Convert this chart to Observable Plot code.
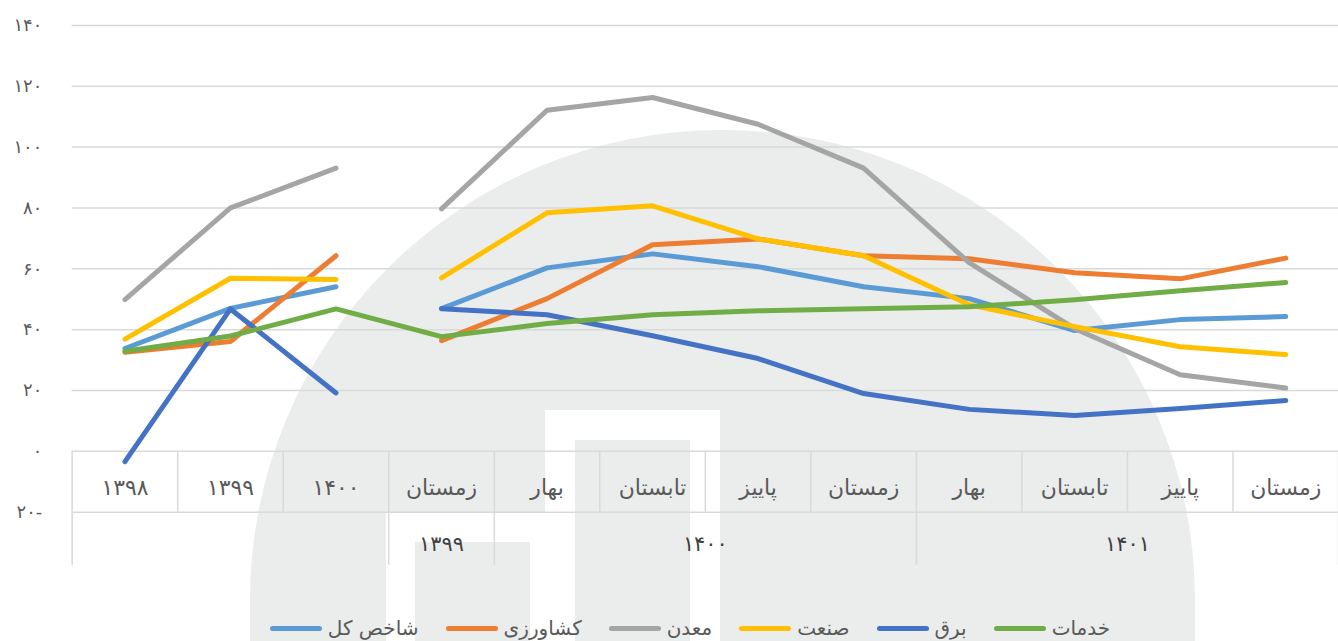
<!DOCTYPE html>
<html>
<head>
<meta charset="utf-8">
<script src="https://cdn.jsdelivr.net/npm/d3@7"></script>
<script src="https://cdn.jsdelivr.net/npm/@observablehq/plot@0.6"></script>
<style>
  html, body { margin: 0; padding: 0; background: #fff; overflow: hidden; width: 1338px; height: 641px; }
  #wrap { position: relative; width: 1338px; height: 641px; overflow: hidden; font-family: "DejaVu Sans", sans-serif; }
  .wm { position: absolute; background: #ebecec; }
  .wmw { position: absolute; background: #fff; }
  #chart { position: absolute; left: 0; top: 0; z-index: 1; }
  #legend { position: absolute; left: 0; top: 614px; width: 1338px; height: 28px; z-index: 1;
            display: flex; justify-content: center; align-items: center; gap: 27px; padding-left: 42px; box-sizing: border-box; }
  .item { display: flex; align-items: center; gap: 6px; font-size: 20px; color: #595959; }
  .sw { width: 52px; height: 5px; border-radius: 3px; }
</style>
</head>
<body>
<div id="wrap">
  <!-- faint background watermark -->
  <div class="wm" style="left:250px; top:130px; width:945px; height:560px; border-radius:472px 472px 0 0 / 470px 470px 0 0;"></div>
  <div class="wmw" style="left:545px; top:410px; width:175px; height:240px;"></div>
  <div class="wm" style="left:575px; top:440px; width:115px; height:210px;"></div>
  <div class="wmw" style="left:386px; top:512px; width:159px; height:140px;"></div>
  <div class="wm" style="left:415px; top:542px; width:115px; height:110px;"></div>
  <div id="chart"></div>
  <div id="legend"></div>
</div>
<script>
// ---- data ----
const categories = ["۱۳۹۸","۱۳۹۹","۱۴۰۰","زمستان","بهار","تابستان","پاییز","زمستان","بهار","تابستان","پاییز","زمستان"];
const groupLabels = ["", "۱۳۹۹", "۱۴۰۰", "۱۴۰۱"];
const groupSizes = [3, 1, 4, 4];
const annualCount = 3;

const seriesNames = ["شاخص کل", "کشاورزی", "معدن", "صنعت", "برق", "خدمات"];
const seriesColors = ["#5B9BD5", "#ED7D31", "#A5A5A5", "#FFC000", "#4472C4", "#70AD47"];
const connectedSeries = ["خدمات"];

const shakhesKol = [33.8, 47.0, 54.1, 46.9, 60.3, 64.9, 60.7, 54.1, 50.2, 39.7, 43.3, 44.3];
const keshavarzi = [32.6, 36.1, 64.3, 36.4, 50.2, 67.9, 69.8, 64.3, 63.3, 58.7, 56.7, 63.5];
const madan      = [49.9, 80.0, 93.1, 79.7, 112.1, 116.3, 107.5, 93.1, 62.0, 40.3, 25.2, 20.8];
const sanat      = [36.9, 56.9, 56.5, 57.0, 78.4, 80.7, 69.8, 64.3, 48.2, 41.0, 34.4, 31.8];
const bargh      = [-3.4, 46.8, 19.2, 46.9, 44.9, 38.0, 30.5, 19.0, 13.8, 11.8, 14.1, 16.7];
const khadamat   = [32.9, 37.9, 46.8, 37.7, 42.0, 44.9, 46.2, 46.9, 47.5, 49.8, 52.8, 55.5];
const seriesValues = [shakhesKol, keshavarzi, madan, sanat, bargh, khadamat];

const yTicks = [-20, 0, 20, 40, 60, 80, 100, 120, 140];

// ---- helpers ----
const fa = s => String(s).replace(/\d/g, d => "۰۱۲۳۴۵۶۷۸۹"[d]);
const yFormat = v => v < 0 ? fa(-v) + "-" : fa(v);

const rows = [];
seriesNames.forEach((name, si) => {
  const connected = connectedSeries.includes(name);
  seriesValues[si].forEach((v, i) => {
    const seg = connected ? "all" : (i < annualCount ? "annual" : "quarterly");
    rows.push({series: name, i, value: v, key: name + "|" + seg});
  });
});

const catIdx = categories.map((c, i) => ({label: c, i}));
const boundaries = d3.range(categories.length + 1).map(k => k - 0.5);
const groupStarts = d3.cumsum([0, ...groupSizes]);
const groupBounds = Array.from(groupStarts, s => s - 0.5);
const groups = groupLabels.map((g, k) => ({label: g, mid: groupStarts[k] + groupSizes[k] / 2 - 0.5}));

const yMin = d3.min(yTicks), yMax = d3.max(yTicks);
const catLabelY = yMin * 0.6;     // middle of first label band
const groupLabelY = yMin * 1.53;  // middle of second label band
const axisDepth = yMin * 1.87;    // bottom of group separators

const chart = Plot.plot({
  width: 1344,
  height: 615,
  marginLeft: 72,
  marginRight: 0,
  marginTop: 25,
  marginBottom: 101,
  style: {background: "transparent", fontFamily: "DejaVu Sans, sans-serif", overflow: "visible"},
  x: {domain: [-0.5, categories.length - 0.5], axis: null},
  y: {domain: [yMin, yMax], axis: null},
  color: {domain: seriesNames, range: seriesColors},
  marks: [
    Plot.gridY(yTicks, {stroke: "#d9d9d9", strokeOpacity: 1, strokeWidth: 1.5}),
    Plot.axisY(yTicks, {tickSize: 0, tickPadding: 30, tickFormat: yFormat, fontSize: 18, fill: "#595959", label: null}),
    Plot.ruleX(boundaries, {x: d => d, y1: yMin, y2: 0, stroke: "#d9d9d9", strokeWidth: 1.5}),
    Plot.ruleX(groupBounds, {x: d => d, y1: yMin, y2: axisDepth, stroke: "#d9d9d9", strokeWidth: 1.5}),
    Plot.text(catIdx, {x: "i", y: () => catLabelY, text: "label", fontSize: 22, fill: "#595959"}),
    Plot.text(groups, {x: "mid", y: () => groupLabelY, text: "label", fontSize: 21, fill: "#404040"}),
    Plot.lineY(rows, {x: "i", y: "value", z: "key", stroke: "series", strokeWidth: 5,
                      strokeLinecap: "round", strokeLinejoin: "round"})
  ]
});
document.getElementById("chart").appendChild(chart);

// ---- legend ----
const legend = document.getElementById("legend");
seriesNames.forEach((name, si) => {
  const item = document.createElement("div");
  item.className = "item";
  const sw = document.createElement("div");
  sw.className = "sw";
  sw.style.background = seriesColors[si];
  const t = document.createElement("span");
  t.textContent = name;
  item.appendChild(sw);
  item.appendChild(t);
  legend.appendChild(item);
});
</script>
</body>
</html>
